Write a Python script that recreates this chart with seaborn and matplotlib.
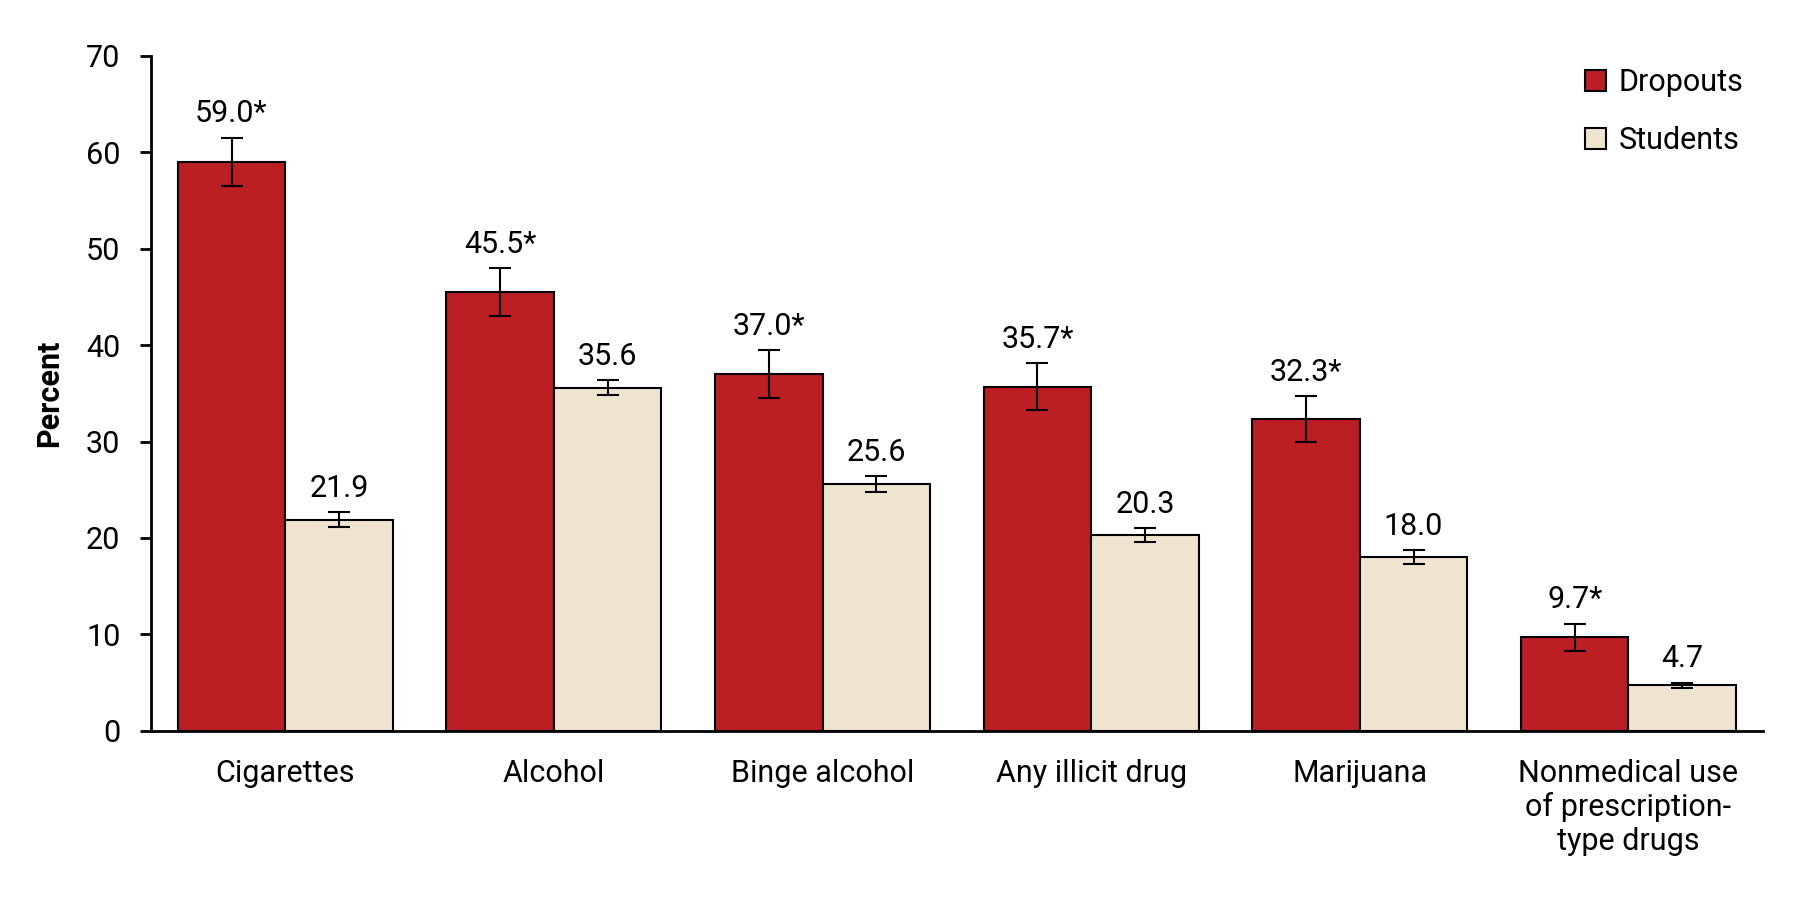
import seaborn as sns
import matplotlib.pyplot as plt
import pandas as pd

categories = ['Cigarettes', 'Alcohol', 'Binge alcohol', 'Any illicit drug', 'Marijuana',
              'Nonmedical use\nof prescription-\ntype drugs']
groups = ['Dropouts', 'Students']
dropouts = [59.0, 45.5, 37.0, 35.7, 32.3, 9.7]
students = [21.9, 35.6, 25.6, 20.3, 18.0, 4.7]
dropouts_err = [2.5, 2.5, 2.5, 2.4, 2.4, 1.4]
students_err = [0.8, 0.8, 0.8, 0.7, 0.7, 0.3]
dropouts_lbl = ['59.0*', '45.5*', '37.0*', '35.7*', '32.3*', '9.7*']
students_lbl = ['21.9', '35.6', '25.6', '20.3', '18.0', '4.7']
colors = ['#bb1e23', '#efe4d0']

df = pd.DataFrame({
    'cat': categories * 2,
    'group': [groups[0]] * 6 + [groups[1]] * 6,
    'val': dropouts + students,
})

sns.set_style('white')
plt.rcParams['font.family'] = ['Roboto', 'DejaVu Sans']
plt.rcParams['text.color'] = 'black'
plt.rcParams['axes.labelcolor'] = 'black'
plt.rcParams['xtick.color'] = 'black'
plt.rcParams['ytick.color'] = 'black'

fs = 22
fig = plt.figure(figsize=(18.01, 9), dpi=100)
ax = fig.add_axes([0.0838, 0.188, 0.895, 0.75])
sns.barplot(data=df, x='cat', y='val', hue='group', palette=colors, width=0.8,
            saturation=1, errorbar=None, edgecolor='black', linewidth=1.5, ax=ax)

# error bars and value labels at bar centres
for i, (vals, errs, lbls) in enumerate([(dropouts, dropouts_err, dropouts_lbl),
                                         (students, students_err, students_lbl)]):
    cont = ax.containers[i]
    xs = [p.get_x() + p.get_width() / 2 for p in cont]
    ax.errorbar(xs, vals, yerr=errs, fmt='none', ecolor='black', elinewidth=1.5,
                capsize=8, capthick=1.5)
    for x, v, e, t in zip(xs, vals, errs, lbls):
        ax.annotate(t, (x, v + e), xytext=(0, 11), textcoords='offset points',
                    ha='center', va='baseline', fontsize=fs)

ax.set_ylim(0, 70)
ax.set_yticks(range(0, 71, 10))
ax.set_xlim(-0.5, 5.5)
ax.set_xlabel('')
ax.set_ylabel('Percent', fontsize=fs, fontweight='bold', labelpad=16)
ax.tick_params(axis='y', labelsize=fs, length=8, width=2, direction='out', left=True, pad=14)
ax.tick_params(axis='x', labelsize=fs, length=0, pad=20)
sns.despine(ax=ax, top=True, right=True)
for s in ['left', 'bottom']:
    ax.spines[s].set_linewidth(2)
    ax.spines[s].set_color('black')
for lab in ax.get_xticklabels():
    lab.set_linespacing(1.2)

leg = ax.legend(loc='upper right', bbox_to_anchor=(1.005, 1.022), frameon=False, fontsize=fs,
                handlelength=0.7, handleheight=0.7, handletextpad=0.4, labelspacing=0.95)
for h in leg.legend_handles:
    h.set_edgecolor('black')
    h.set_linewidth(1.5)

fig.savefig('out.png', dpi=100)
